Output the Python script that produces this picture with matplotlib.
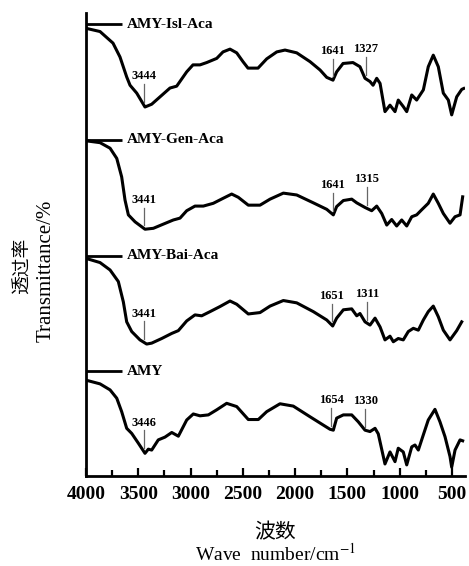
import numpy as np
import matplotlib
matplotlib.use("Agg")
import matplotlib.pyplot as plt

plt.rcParams["mathtext.fontset"] = "stix"

SERIF = ["Liberation Serif", "DejaVu Serif"]
CJK = ["Noto Sans CJK SC", "DejaVu Sans"]

# FTIR spectra (wavenumber in cm-1, relative transmittance)
amy_wn = [4000, 3866, 3770, 3706, 3659, 3611, 3563, 3500, 3436, 3404,
          3372, 3309, 3245, 3180, 3117, 3037, 2974, 2910, 2830, 2750,
          2655, 2559, 2448, 2352, 2272, 2145, 2018, 1858, 1731, 1667,
          1635, 1603, 1539, 1459, 1396, 1332, 1284, 1236, 1205, 1141,
          1093, 1045, 1014, 966, 933, 885, 854, 822, 774, 727,
          663, 615, 567, 519, 503, 471, 423, 398]
amy_t = [20.7, 19.9, 18.6, 16.8, 13.9, 10.3, 9.2, 7.1, 4.9, 5.8,
         5.6, 7.8, 8.4, 9.4, 8.6, 12.1, 13.4, 13.0, 13.2, 14.3,
         15.7, 15.0, 12.2, 12.2, 13.9, 15.6, 15.1, 12.8, 11.0, 10.1,
         9.9, 12.5, 13.2, 13.2, 11.7, 9.9, 9.6, 10.3, 9.1, 2.6,
         5.2, 3.1, 6.0, 5.2, 2.4, 6.3, 6.7, 5.6, 8.9, 12.1,
         14.4, 11.7, 8.5, 4.2, 1.9, 5.6, 7.8, 7.6]

bai_wn = [4000, 3866, 3770, 3691, 3643, 3611, 3563, 3484, 3420, 3372,
          3276, 3180, 3117, 3037, 2958, 2894, 2814, 2719, 2623, 2559,
          2448, 2336, 2240, 2113, 1985, 1826, 1698, 1641, 1603, 1539,
          1459, 1411, 1380, 1332, 1284, 1236, 1188, 1141, 1093, 1061,
          1014, 966, 918, 870, 822, 774, 727, 679, 631, 583,
          519, 455, 407]
bai_t = [22.0, 21.1, 19.5, 17.0, 12.6, 8.3, 6.2, 4.4, 3.5, 3.7,
         4.7, 5.8, 6.4, 8.5, 9.8, 9.6, 10.5, 11.6, 12.8, 12.1,
         10.0, 10.3, 11.7, 12.9, 12.4, 10.5, 8.7, 7.4, 9.1, 10.9,
         11.1, 9.6, 10.1, 8.3, 7.6, 9.1, 7.2, 4.4, 5.2, 4.0,
         4.7, 4.4, 6.2, 6.9, 6.5, 8.7, 10.5, 11.7, 9.4, 6.5,
         4.4, 6.4, 8.3]

gen_wn = [4000, 3866, 3770, 3706, 3659, 3627, 3595, 3531, 3436, 3356,
          3261, 3165, 3101, 3037, 2958, 2878, 2783, 2687, 2607, 2544,
          2448, 2336, 2240, 2113, 1985, 1826, 1698, 1635, 1603, 1539,
          1459, 1411, 1332, 1268, 1220, 1172, 1124, 1077, 1029, 981,
          933, 885, 838, 790, 727, 679, 631, 583, 519, 471,
          423, 398]
gen_t = [22.4, 22.0, 20.8, 18.6, 14.6, 9.6, 6.4, 4.9, 3.3, 3.5,
         4.4, 5.3, 5.7, 7.3, 8.3, 8.3, 8.9, 10.0, 10.9, 10.2,
         8.5, 8.5, 9.8, 11.1, 10.7, 9.0, 7.6, 6.4, 8.2, 9.5,
         9.8, 9.0, 8.0, 7.3, 8.3, 6.7, 4.2, 5.4, 4.0, 5.3,
         4.0, 6.0, 6.4, 7.5, 8.9, 10.9, 8.9, 6.7, 4.6, 6.0,
         6.4, 10.3]

isl_wn = [4000, 3866, 3742, 3675, 3611, 3579, 3515, 3436, 3372, 3292,
          3197, 3133, 3037, 2977, 2910, 2846, 2750, 2690, 2623, 2559,
          2499, 2451, 2355, 2272, 2176, 2097, 1985, 1858, 1762, 1698,
          1638, 1603, 1542, 1447, 1380, 1332, 1284, 1255, 1220, 1188,
          1141, 1093, 1045, 1014, 966, 933, 885, 838, 774, 727,
          679, 631, 583, 535, 503, 455, 407, 388]
isl_t = [21.7, 21.0, 18.5, 15.5, 11.2, 9.4, 7.7, 4.7, 5.3, 6.9,
         8.8, 9.2, 12.3, 13.8, 13.8, 14.3, 15.2, 16.6, 17.2, 16.4,
         14.5, 13.1, 13.1, 15.1, 16.6, 17.0, 16.4, 14.5, 12.7, 11.1,
         10.5, 12.3, 14.1, 14.3, 13.4, 10.9, 10.2, 9.4, 10.9, 9.8,
         3.7, 5.1, 3.7, 6.2, 4.8, 3.7, 7.3, 6.2, 8.4, 13.4,
         15.9, 13.4, 7.7, 6.2, 3.0, 6.9, 8.5, 8.7]

names = ["AMY", "AMY-Bai-Aca", "AMY-Gen-Aca", "AMY-Isl-Aca"]
wavenumbers = [amy_wn, bai_wn, gen_wn, isl_wn]
transmittance = [amy_t, bai_t, gen_t, isl_t]
peaks = [[3446, 1654, 1330],
         [3441, 1651, 1311],
         [3441, 1641, 1315],
         [3444, 1641, 1327]]
offsets = [0, 25, 50, 75]

fig = plt.figure(figsize=(4.69, 5.66), dpi=100)
ax = fig.add_axes([0.1834, 0.159, 0.808, 0.818])

for wn, t, pk, off, name in zip(wavenumbers, transmittance, peaks, offsets, names):
    y = np.array(t) + off
    ax.plot(wn, y, color="black", lw=2.2, solid_joinstyle="round")

    # series name with a short leader line from the axis
    ax.plot([4000, 3655], [off + 22.6, off + 22.6], color="black", lw=2.0,
            clip_on=False, solid_capstyle="butt")
    ax.text(3610, off + 22.6, name, ha="left", va="center", fontsize=11,
            fontweight="bold", family=SERIF)

    # peak markers
    for p in pk:
        base = np.interp(p, wn[::-1], y[::-1])
        ax.plot([p, p], [base + 0.8, base + 4.6], color="#666666", lw=0.9)
        ax.text(p, base + 5.0, str(p), ha="center", va="bottom", fontsize=9,
                fontweight="bold", family=SERIF)

ax.set_xlim(4000, 376)
ax.set_ylim(0, 100)
ax.set_xticks([4000, 3500, 3000, 2500, 2000, 1500, 1000, 500])
ax.set_xticks(np.arange(3750, 376, -500), minor=True)
ax.set_yticks([])
for side in ["top", "right"]:
    ax.spines[side].set_visible(False)
for side in ["left", "bottom"]:
    ax.spines[side].set_linewidth(2.0)
ax.tick_params(axis="x", which="major", direction="in", length=6, width=1.6, pad=7)
ax.tick_params(axis="x", which="minor", direction="in", length=4, width=1.6)
for lab in ax.get_xticklabels():
    lab.set_fontfamily(SERIF)
    lab.set_fontweight("bold")
    lab.set_fontsize(14)

# axis titles (Chinese over English)
fig.text(0.587, 1 - 532 / 566, "波数", ha="center", va="center",
         fontsize=15, family=CJK)
fig.text(0.587, 1 - 561 / 566, "Wave  number/cm$^{-1}$", ha="center",
         va="baseline", fontsize=14, family=SERIF)
fig.text(22 / 469, 1 - 266 / 566, "透过率", ha="center", va="center",
         rotation=90, fontsize=13.5, family=CJK)
fig.text(46 / 469, 1 - 271 / 566, "Transmittance/%", ha="center",
         va="center", rotation=90, fontsize=15, family=SERIF)

fig.savefig("out.png", dpi=100)
